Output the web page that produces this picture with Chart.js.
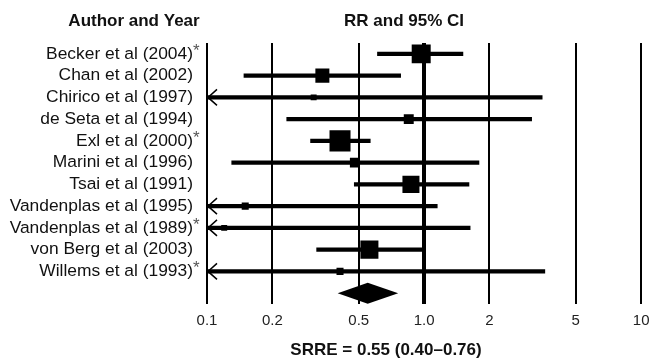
<!DOCTYPE html>
<html>
<head>
<meta charset="utf-8">
<script src="https://cdn.jsdelivr.net/npm/chart.js@4.4.1/dist/chart.umd.min.js"></script>
<style>
  html, body { margin: 0; padding: 0; background: #fff; }
  #wrap { width: 656px; height: 359px; }
</style>
</head>
<body>
<div id="wrap"><canvas id="forest"></canvas></div>
<script>
// data
const studies = [
    'Becker et al (2004)', 'Chan et al (2002)', 'Chirico et al (1997)',
    'de Seta et al (1994)', 'Exl et al (2000)', 'Marini et al (1996)',
    'Tsai et al (1991)', 'Vandenplas et al (1995)', 'Vandenplas et al (1989)',
    'von Berg et al (2003)', 'Willems et al (1993)'
];
const starred = [true, false, false, false, true, false, false, false, true, false, true];
const rr = [0.97, 0.34, 0.31, 0.85, 0.41, 0.48, 0.87, 0.15, 0.12, 0.56, 0.41];
// null = lower limit is below 0.1 (arrow)
const ciLow = [0.61, 0.148, null, 0.233, 0.30, 0.13, 0.477, null, null, 0.32, null];
const ciHigh = [1.51, 0.78, 3.5, 3.13, 0.565, 1.79, 1.61, 1.15, 1.63, 1.0, 3.6];
const weights = [18.2, 9.9, 1.8, 5.0, 22.3, 5.0, 14.6, 2.5, 1.8, 16.4, 2.5]; // % (box area)
const pooled = { rr: 0.55, lo: 0.40, hi: 0.76 };
const xTicks = [0.1, 0.2, 0.5, 1, 2, 5, 10];

const FONT = "'Liberation Sans', Arial, Helvetica, sans-serif";
const rowLabels = studies.concat(['']);

// arrows, asterisks, diamond and the free text
const forestExtras = {
    id: 'forestExtras',
    afterDatasetsDraw(chart) {
        const ctx = chart.ctx;
        const xs = chart.scales.x, ys = chart.scales.y;
        ctx.save();
        // left arrows for CIs running past 0.1
        ctx.strokeStyle = '#000';
        ctx.lineWidth = 1.5;
        ciLow.forEach(function(v, i) {
            if (v !== null) return;
            const y = ys.getPixelForValue(i);
            const x = xs.left;
            ctx.beginPath();
            ctx.moveTo(x + 10, y - 8);
            ctx.lineTo(x + 1, y);
            ctx.lineTo(x + 10, y + 8);
            ctx.stroke();
        });
        // pooled diamond
        const yd = ys.getPixelForValue(studies.length);
        ctx.fillStyle = '#000';
        ctx.beginPath();
        ctx.moveTo(xs.getPixelForValue(pooled.lo), yd);
        ctx.lineTo(xs.getPixelForValue(pooled.rr), yd - 10.5);
        ctx.lineTo(xs.getPixelForValue(pooled.hi), yd);
        ctx.lineTo(xs.getPixelForValue(pooled.rr), yd + 10.5);
        ctx.closePath();
        ctx.fill();
        ctx.restore();
    },
    afterDraw(chart) {
        const ctx = chart.ctx;
        const ys = chart.scales.y;
        ctx.save();
        // asterisks after the flagged study names
        ctx.font = '17px ' + FONT;
        ctx.fillStyle = '#555';
        ctx.textBaseline = 'middle';
        ctx.textAlign = 'left';
        studies.forEach(function(s, i) {
            if (!starred[i]) return;
            const y = ys.getPixelForValue(i);
            ctx.fillText('*', 193, y - 3);
        });
        // headers
        ctx.fillStyle = '#111';
        ctx.font = 'bold 17px ' + FONT;
        ctx.textAlign = 'center';
        ctx.fillText('Author and Year', 134, 21);
        ctx.fillText('RR and 95% CI', 404, 21);
        ctx.fillText('SRRE = 0.55 (0.40\u20130.76)', 386, 350);
        ctx.restore();
    }
};

const data_forest = {
    labels: rowLabels,
    datasets: [
        {
            type: 'scatter',
            label: 'RR',
            data: rr.map(function(v, i) { return { x: v, y: studies[i] }; }),
            pointStyle: 'rect',
            pointRadius: weights.map(function(w) { return 4.45 * Math.sqrt(w) / Math.SQRT2; }),
            pointHoverRadius: weights.map(function(w) { return 4.45 * Math.sqrt(w) / Math.SQRT2; }),
            backgroundColor: '#000',
            borderWidth: 0
        },
        {
            type: 'bar',
            label: '95% CI',
            indexAxis: 'y',
            data: ciHigh.map(function(h, i) { return [ciLow[i] === null ? 0.1 : ciLow[i], h]; }).concat([null]),
            backgroundColor: '#000',
            borderWidth: 0,
            barThickness: 3.5
        }
    ]
};

const config_forest = {
    type: 'bar',
    data: data_forest,
    plugins: [forestExtras],
    options: {
        responsive: true,
        maintainAspectRatio: false,
        animation: false,
        layout: { padding: { top: 43, right: 13, bottom: 0, left: 0 } },
        plugins: { legend: { display: false }, tooltip: { enabled: false } },
        scales: {
            x: {
                type: 'logarithmic',
                min: 0.1,
                max: 10,
                offset: false,
                afterBuildTicks: function(axis) {
                    axis.ticks = xTicks.map(function(v) { return { value: v }; });
                },
                afterFit: function(axis) {
                    axis.height = 55;
                    axis.paddingRight = 0;
                    axis.paddingLeft = 0;
                },
                grid: {
                    offset: false,
                    color: '#000',
                    lineWidth: function(c) { return c.tick && c.tick.value === 1 ? 4 : 2; },
                    drawTicks: false
                },
                border: { display: false },
                ticks: {
                    autoSkip: false,
                    maxRotation: 0,
                    padding: 8,
                    color: '#222',
                    font: { family: FONT, size: 15 },
                    callback: function(v) { return v === 1 ? '1.0' : String(v); }
                }
            },
            y: {
                type: 'category',
                labels: rowLabels,
                offset: true,
                afterFit: function(axis) { axis.width = 207; },
                grid: { display: false, drawTicks: false },
                border: { display: false },
                ticks: {
                    autoSkip: false,
                    padding: 14,
                    color: '#111',
                    font: { family: FONT, size: 17.4 }
                }
            }
        }
    }
};

let forest_chart = new Chart(document.getElementById('forest'), config_forest);
</script>
</body>
</html>
